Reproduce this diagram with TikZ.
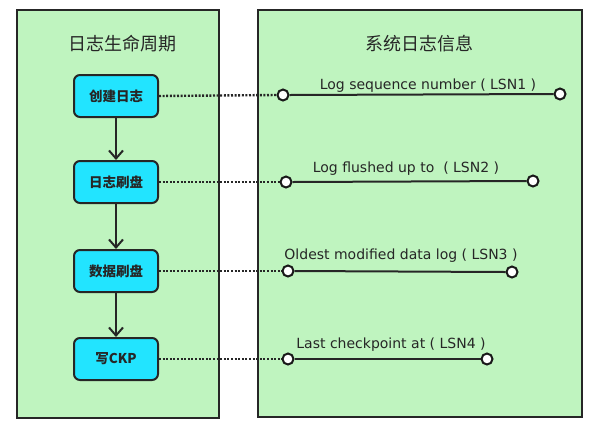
\documentclass[tikz,border=0pt]{standalone}
\usepackage{fontspec}
\setmainfont{DejaVu Sans}
\newfontfamily\cjk{Noto Sans CJK SC}
\usetikzlibrary{arrows.meta}
\definecolor{panelgreen}{HTML}{BFF4BF}
\definecolor{boxcyan}{HTML}{22E4FF}
\tikzset{
  panel/.style={draw=black!85, line width=2pt, fill=panelgreen},
  stepbox/.style={draw=black!85, line width=2pt, fill=boxcyan, rounded corners=6pt,
    minimum width=84pt, minimum height=42pt, font=\cjk\bfseries\fontsize{13.5}{15}\selectfont, text=black!85},
  flow/.style={draw=black!85, line width=2pt, -{Straight Barb[length=8pt,width=14pt,line width=2pt]}},
  dotline/.style={draw=black!85, line width=2.4pt, dash pattern=on 2pt off 1.6pt, line cap=butt},
  lsnline/.style={draw=black!85, line width=2pt},
  endpt/.style={circle, draw=black!90, line width=2pt, fill=white, inner sep=0pt, minimum size=11pt},
  title/.style={font=\cjk\fontsize{18}{20}\selectfont, text=black!85},
  lsnlabel/.style={font=\fontsize{14}{16}\selectfont, text=black!85, anchor=base}
}
\begin{document}
\begin{tikzpicture}[x=1pt,y=-1pt]
\useasboundingbox (0,0) rectangle (596,432);
\fill[white] (0,0) rectangle (596,432);
% panels
\draw[panel] (17,10) rectangle (219,418);
\draw[panel] (258,10) rectangle (582,417);
\node[title] (t1) at (122,44) {日志生命周期};
\node[title] (t2) at (419,44) {系统日志信息};
% steps
\node[stepbox] (b1) at (116,96) {创建日志};
\node[stepbox] (b2) at (116,182) {日志刷盘};
\node[stepbox] (b3) at (116,271) {数据刷盘};
\node[stepbox] (b4) at (116,359) {写CKP};
\draw[flow] (b1) -- (b2);
\draw[flow] (b2) -- (b3);
\draw[flow] (b3) -- (b4);
% endpoints
\node[endpt] (l1) at (283,95) {};
\node[endpt] (r1) at (560,94) {};
\node[endpt] (l2) at (286,182) {};
\node[endpt] (r2) at (533,181) {};
\node[endpt] (l3) at (288,271) {};
\node[endpt] (r3) at (512,272) {};
\node[endpt] (l4) at (288,359) {};
\node[endpt] (r4) at (487,359) {};
% dotted links
\draw[dotline] (b1.east) -- (l1.west);
\draw[dotline] (b2.east) -- (l2.west);
\draw[dotline] (b3.east) -- (l3.west);
\draw[dotline] (b4.east) -- (l4.west);
% lsn lines
\draw[lsnline] (l1.east) -- (r1.west);
\draw[lsnline] (l2.east) -- (r2.west);
\draw[lsnline] (l3.east) -- (r3.west);
\draw[lsnline] (l4.east) -- (r4.west);
% labels
\node[lsnlabel] (n1) at (428,89) {Log sequence number ( LSN1 )};
\node[lsnlabel] (n2) at (406,172) {Log flushed up to \ ( LSN2 )};
\node[lsnlabel] (n3) at (401,259) {Oldest modified data log ( LSN3 )};
\node[lsnlabel] (n4) at (391,348) {Last checkpoint at ( LSN4 )};
\end{tikzpicture}
\end{document}
